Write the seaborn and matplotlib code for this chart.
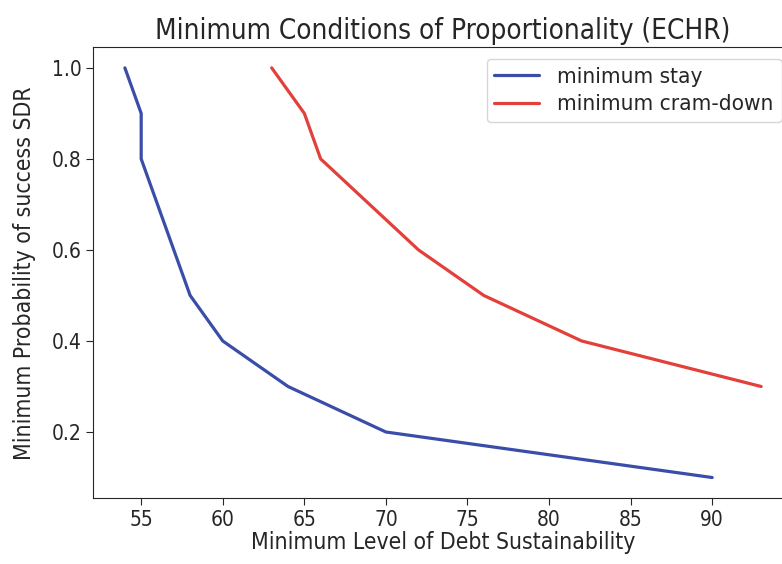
import numpy as np
import pandas as pd
import matplotlib
matplotlib.use("Agg")
import matplotlib.pyplot as plt
import seaborn as sns

# Dati
stay_x = [54, 55, 55, 58, 60, 64, 70, 90]
stay_y = [1.0, 0.9, 0.8, 0.5, 0.4, 0.3, 0.2, 0.1]
cram_x = [63, 65, 66, 72, 76, 82, 93]
cram_y = [1.0, 0.9, 0.8, 0.6, 0.5, 0.4, 0.3]

df = pd.concat([
    pd.DataFrame({'x': stay_x, 'y': stay_y, 'serie': 'minimum stay'}),
    pd.DataFrame({'x': cram_x, 'y': cram_y, 'serie': 'minimum cram-down'}),
])

sns.set_style("ticks")
plt.rcParams['font.family'] = ['DejaVu Sans']
plt.rcParams['font.stretch'] = 'condensed'
plt.rcParams['xtick.major.size'] = 5
plt.rcParams['ytick.major.size'] = 5

fig, ax = plt.subplots(figsize=(7.82, 5.64), dpi=100)
sns.lineplot(data=df, x='x', y='y', hue='serie', estimator=None, sort=False,
             palette={'minimum stay': '#3a4da8', 'minimum cram-down': '#e3403b'},
             linewidth=2.3, ax=ax)

ax.set_xticks([55, 60, 65, 70, 75, 80, 85, 90])
ax.set_yticks([0.2, 0.4, 0.6, 0.8, 1.0])
ax.set_xlabel('Minimum Level of Debt Sustainability', fontsize=16.5, labelpad=1)
ax.set_ylabel('Minimum Probability of success SDR', fontsize=16.5, labelpad=11)
ax.set_title('Minimum Conditions of Proportionality (ECHR)', fontsize=20)
ax.tick_params(labelsize=15)
ax.legend(loc='upper right', fontsize=16.2, title=None, labelspacing=0.35,
          borderpad=0.35)

# l'asse destro esce leggermente dall'immagine, come nell'originale
fig.subplots_adjust(left=0.119, right=1.014, bottom=0.117, top=0.916)
fig.savefig('out.png', dpi=100)
